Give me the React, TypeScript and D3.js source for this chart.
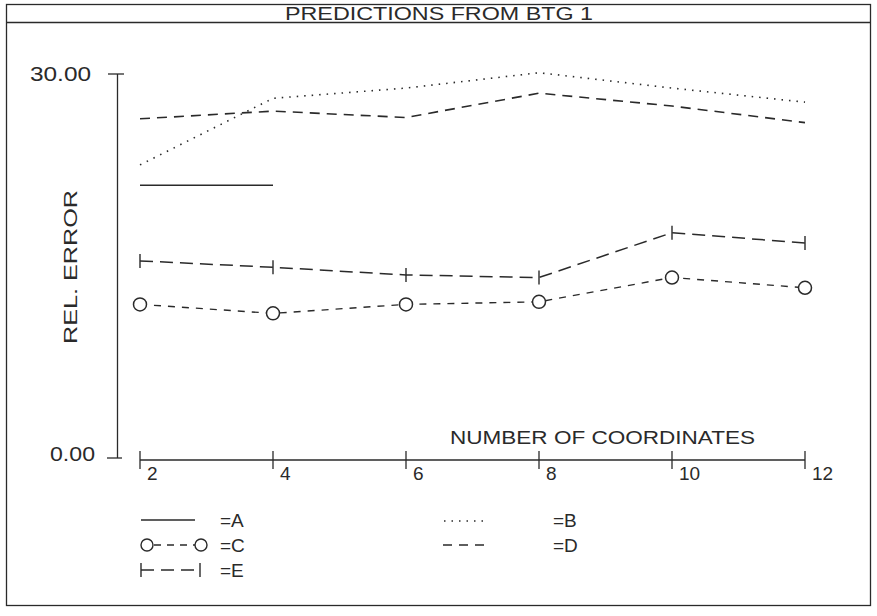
import { useEffect, useRef } from "react"
import * as d3 from "d3"

// x positions (number of coordinates)
const coords = [2, 4, 6, 8, 10, 12]
// series values (rel. error)
const seriesA = [21.3, 21.3]
const seriesB = [22.9, 28.1, 28.9, 30.1, 28.9, 27.8]
const seriesC = [12.0, 11.3, 12.0, 12.2, 14.1, 13.3]
const seriesD = [26.5, 27.1, 26.6, 28.5, 27.5, 26.2]
const seriesE = [15.4, 14.9, 14.3, 14.1, 17.6, 16.8]
const yTickLabels = ["0.00", "30.00"]

const FONT = "'Liberation Sans', Arial, sans-serif"

const App = () => {
  const svgRef = useRef<SVGSVGElement>(null)

  useEffect(() => {
    const svg = d3.select(svgRef.current)
    svg.selectAll("*").remove()

    const x = d3.scaleLinear().domain([2, 12]).range([140, 805])
    const y = d3.scaleLinear().domain([0, 30]).range([458, 74])
    const ink = "#2a2a2a"

    // frame + title band
    svg.append("rect").attr("x", 6.5).attr("y", 4.5).attr("width", 864).attr("height", 601)
      .attr("fill", "none").attr("stroke", ink).attr("stroke-width", 1.3)
    svg.append("line").attr("x1", 6).attr("x2", 871).attr("y1", 22.5).attr("y2", 22.5)
      .attr("stroke", ink).attr("stroke-width", 1.3)
    svg.append("text").attr("x", 439).attr("y", 20).attr("text-anchor", "middle")
      .attr("font-family", FONT).attr("font-size", 18).attr("fill", ink)
      .attr("textLength", 308).attr("lengthAdjust", "spacingAndGlyphs").text("PREDICTIONS FROM BTG 1")

    // y axis
    svg.append("line").attr("x1", 117.5).attr("x2", 117.5).attr("y1", y(30)).attr("y2", y(0))
      .attr("stroke", ink).attr("stroke-width", 1.3)
    svg.append("line").attr("x1", 108).attr("x2", 124).attr("y1", y(30)).attr("y2", y(30))
      .attr("stroke", ink).attr("stroke-width", 1.3)
    svg.append("line").attr("x1", 107).attr("x2", 122).attr("y1", y(0)).attr("y2", y(0))
      .attr("stroke", ink).attr("stroke-width", 1.3)
    svg.selectAll(".ylab").data([0, 30]).enter().append("text")
      .attr("x", (d, i) => (i === 0 ? 50 : 30)).attr("y", (d, i) => y(d) + (i === 0 ? 3 : 7))
      .attr("font-family", FONT).attr("font-size", 20).attr("fill", ink)
      .attr("textLength", (d, i) => (i === 0 ? 45 : 61)).attr("lengthAdjust", "spacingAndGlyphs")
      .text((d, i) => yTickLabels[i])
    svg.append("text").attr("transform", `translate(77, 267) rotate(-90)`)
      .attr("text-anchor", "middle").attr("font-family", FONT).attr("font-size", 19).attr("fill", ink)
      .attr("textLength", 154).attr("lengthAdjust", "spacingAndGlyphs").text("REL. ERROR")

    // x axis
    const xAxisY = 460
    svg.append("line").attr("x1", x(2)).attr("x2", x(12)).attr("y1", xAxisY).attr("y2", xAxisY)
      .attr("stroke", ink).attr("stroke-width", 1.3)
    svg.selectAll(".xt").data(coords).enter().append("line")
      .attr("x1", d => x(d)).attr("x2", d => x(d)).attr("y1", xAxisY - 9).attr("y2", xAxisY + 9)
      .attr("stroke", ink).attr("stroke-width", 1.3)
    svg.selectAll(".xl").data(coords).enter().append("text")
      .attr("x", d => x(d) + 7).attr("y", xAxisY + 20)
      .attr("font-family", FONT).attr("font-size", 19).attr("fill", ink)
      .text(d => d)
    svg.append("text").attr("x", 450).attr("y", 444)
      .attr("font-family", FONT).attr("font-size", 19).attr("fill", ink)
      .attr("textLength", 305).attr("lengthAdjust", "spacingAndGlyphs").text("NUMBER OF COORDINATES")

    const line = d3.line<[number, number]>().x(d => x(d[0])).y(d => y(d[1]))
    const pairs = (vals: number[]) => vals.map((v, i) => [coords[i], v] as [number, number])

    const drawLine = (vals: number[], dash: string | null, w = 1.4) => {
      const p = svg.append("path").datum(pairs(vals)).attr("fill", "none")
        .attr("stroke", ink).attr("stroke-width", w).attr("d", line)
      if (dash) p.attr("stroke-dasharray", dash)
      return p
    }

    drawLine(seriesA, null, 1.5)
    drawLine(seriesB, "1.5 6", 1.6)
    drawLine(seriesD, "10 7", 1.6)
    drawLine(seriesE, "13 7", 1.5)
    drawLine(seriesC, "7 7", 1.4)

    // E markers: vertical ticks
    svg.selectAll(".em").data(pairs(seriesE)).enter().append("line")
      .attr("x1", d => x(d[0])).attr("x2", d => x(d[0]))
      .attr("y1", d => y(d[1]) - 7).attr("y2", d => y(d[1]) + 7)
      .attr("stroke", ink).attr("stroke-width", 1.4)
    // C markers: circles
    svg.selectAll(".cm").data(pairs(seriesC)).enter().append("circle")
      .attr("cx", d => x(d[0])).attr("cy", d => y(d[1])).attr("r", 6.5)
      .attr("fill", "#fff").attr("stroke", ink).attr("stroke-width", 1.5)

    // legend
    const lg = svg.append("g")
    const lab = (lx: number, ly: number, t: string) =>
      lg.append("text").attr("x", lx).attr("y", ly + 7).attr("font-family", FONT)
        .attr("font-size", 19).attr("fill", ink).text(t)
    const seg = (x1: number, x2: number, ly: number, dash: string | null, w = 1.4) => {
      const l = lg.append("line").attr("x1", x1).attr("x2", x2).attr("y1", ly).attr("y2", ly)
        .attr("stroke", ink).attr("stroke-width", w)
      if (dash) l.attr("stroke-dasharray", dash)
    }
    seg(141, 195, 520, null, 1.5)
    lab(220, 520, "=A")
    seg(444, 488, 521, "1.5 6", 1.6)
    lab(553, 520, "=B")
    seg(154, 195, 545, "7 6", 1.4)
    lg.append("circle").attr("cx", 147).attr("cy", 545).attr("r", 6).attr("fill", "#fff")
      .attr("stroke", ink).attr("stroke-width", 1.4)
    lg.append("circle").attr("cx", 201).attr("cy", 545).attr("r", 6).attr("fill", "#fff")
      .attr("stroke", ink).attr("stroke-width", 1.4)
    lab(220, 545, "=C")
    seg(443, 487, 545, "9 7", 1.6)
    lab(553, 545, "=D")
    seg(141, 200, 570, "13 7", 1.5)
    lg.append("line").attr("x1", 141).attr("x2", 141).attr("y1", 563).attr("y2", 577)
      .attr("stroke", ink).attr("stroke-width", 1.4)
    lg.append("line").attr("x1", 200).attr("x2", 200).attr("y1", 563).attr("y2", 577)
      .attr("stroke", ink).attr("stroke-width", 1.4)
    lab(220, 570, "=E")
  }, [])

  return <svg ref={svgRef} width={877} height={616} style={{ position: "absolute", left: 0, top: 0, background: "#fff" }} />
}

export default App
